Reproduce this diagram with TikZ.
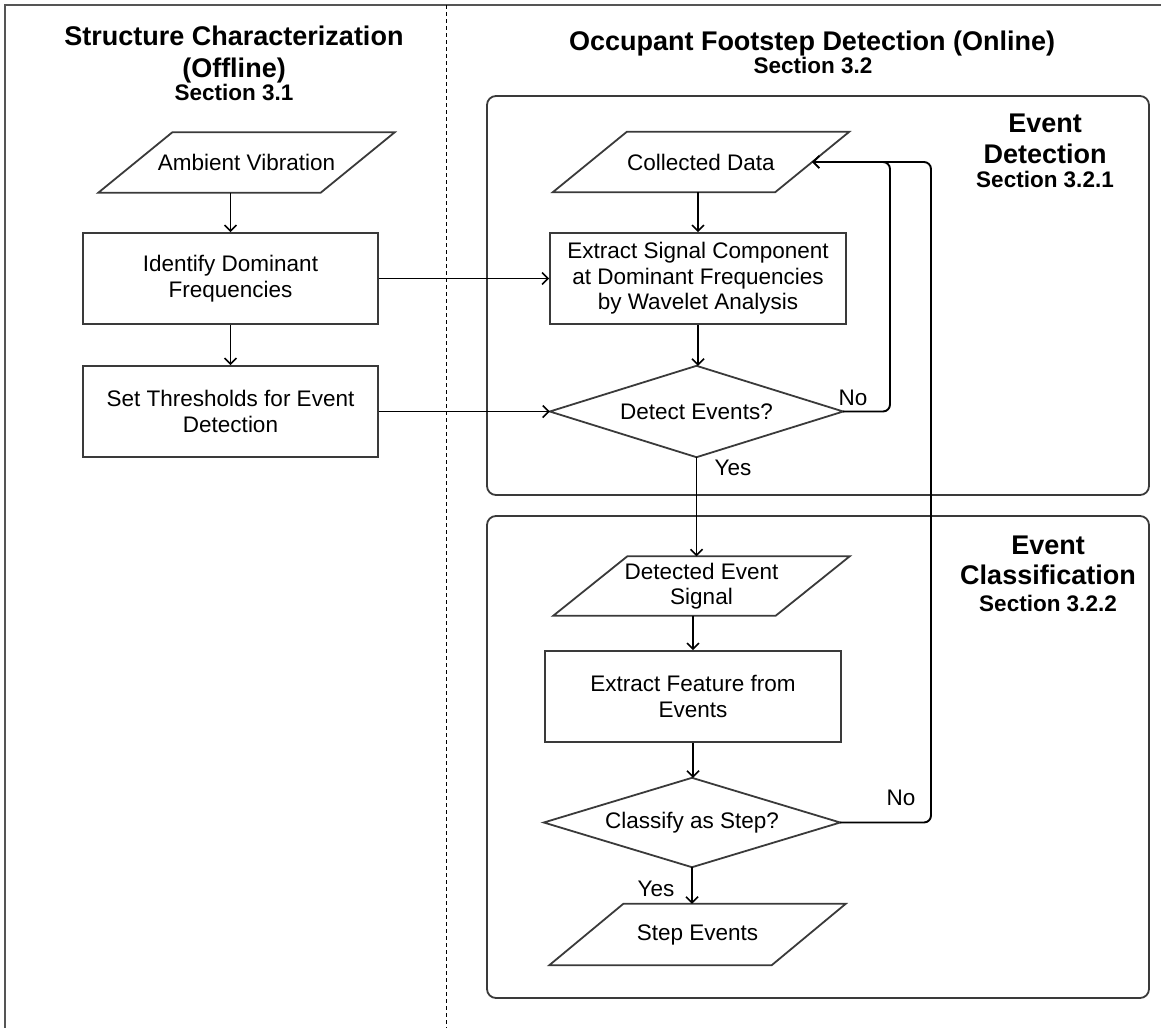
\documentclass[tikz,border=0pt]{standalone}
\usepackage{fontspec}
\setmainfont{Liberation Sans}
\usetikzlibrary{arrows.meta}
\definecolor{shapegray}{HTML}{3A3A3A}
\definecolor{framegray}{HTML}{555555}
\begin{document}
\begin{tikzpicture}[x=1pt,y=-1pt,
  every node/.style={font=\fontsize{22.5}{25.5}\selectfont, inner sep=0pt},
  box/.style={draw=shapegray, line width=1.8pt, minimum width=295pt, minimum height=91pt, align=center},
  holder/.style={minimum width=222pt, minimum height=60pt, align=center},
  dia/.style={align=center},
  shapeline/.style={draw=shapegray, line width=1.8pt, line join=miter},
  conn/.style={draw=black, line width=1.9pt, -{Straight Barb[length=6pt,width=12pt,line width=1.5pt]}},
  container/.style={draw=shapegray, line width=1.8pt, rounded corners=9pt},
  ttl/.style={font=\fontsize{27}{30}\selectfont\bfseries, anchor=base},
  sec/.style={font=\fontsize{22.5}{25}\selectfont\bfseries, anchor=base},
  lbl/.style={font=\fontsize{22.5}{25}\selectfont}
]
\useasboundingbox (0,0) rectangle (1161,1028);

% frame and separator
\draw[framegray, line width=1.8pt] (1161,5) -- (5,5) -- (5,1028);
\draw[black, line width=1pt, dash pattern=on 4pt off 3pt] (446,5) -- (446,1028);

% containers
\node[container, minimum width=662pt, minimum height=399pt] (edbox) at (818,295.5) {};
\node[container, minimum width=662pt, minimum height=482pt] (ecbox) at (818,757) {};

% titles
\node[ttl] (t1) at (234,45) {Structure Characterization};
\node[ttl] (t1b) at (234,77) {(Offline)};
\node[sec] (t1s) at (234,100) {Section 3.1};
\node[ttl] (t2) at (812,50) {Occupant Footstep Detection (Online)};
\node[sec] (t2s) at (813,73) {Section 3.2};
\node[ttl] (t3) at (1045,132) {Event};
\node[ttl] (t3b) at (1045,163) {Detection};
\node[sec] (t3s) at (1045,187) {Section 3.2.1};
\node[ttl] (t4) at (1048,554) {Event};
\node[ttl] (t4b) at (1048,584) {Classification};
\node[sec] (t4s) at (1048,611) {Section 3.2.2};

% nodes
\node[holder] (amb) at (246.5,162.5) {Ambient Vibration};
\node[box] (idf) at (230.5,278.5) {Identify Dominant\\Frequencies};
\node[box] (thr) at (230.5,411.5) {Set Thresholds for Event\\Detection};
\node[holder] (cd) at (701,162) {Collected Data};
\node[box, minimum width=296pt] (ext) at (698,278.5) {Extract Signal Component\\at Dominant Frequencies\\by Wavelet Analysis};
\node[dia, minimum width=293pt, minimum height=91pt] (det) at (696.5,411.5) {Detect Events?};
\node[holder, minimum height=59pt] (des) at (701.5,586) {Detected Event\\Signal};
\node[box, minimum width=296pt] (fea) at (693,696.5) {Extract Feature from\\Events};
\node[dia, minimum width=296pt, minimum height=89pt] (cls) at (692,822.5) {Classify as Step?};
\node[holder, minimum height=61pt] (se) at (697.5,934.5) {Step Events};

% parallelograms
\foreach \n in {amb,cd,des,se}
  \draw[shapeline] ([xshift=37pt]\n.north west) -- ([xshift=37pt]\n.north east)
     -- ([xshift=-37pt]\n.south east) -- ([xshift=-37pt]\n.south west) -- cycle;
% diamonds
\foreach \n in {det,cls}
  \draw[shapeline] (\n.north) -- (\n.east) -- (\n.south) -- (\n.west) -- cycle;

% connectors
\draw[conn] (amb.south -| idf.north) -- (idf.north);
\draw[conn] (idf.south) -- (thr.north);
\draw[conn] (idf.east) -- (ext.west);
\draw[conn] (thr.east) -- (det.west);
\draw[conn] (cd.south -| ext.north) -- (ext.north);
\draw[conn] (ext.south) -- (ext.south |- det.north);
\draw[conn] (det.south) -- (det.south |- des.north);
\draw[conn] (des.south -| fea.north) -- (fea.north);
\draw[conn] (fea.south) -- (fea.south |- cls.north);
\draw[conn] (cls.south) -- (cls.south |- se.north);

\coordinate (loopA) at (890,162);
\coordinate (loopB) at (931,162);
\draw[conn, rounded corners=7pt] (det.east) -| (loopA) -- (cd.east);
\draw[conn, rounded corners=7pt] (cls.east) -| (loopB) -- (cd.east);

% labels
\node[lbl] (noA) at (853,398) {No};
\node[lbl] (yesA) at (733,468) {Yes};
\node[lbl] (noB) at (901,798) {No};
\node[lbl] (yesB) at (656,889) {Yes};
\end{tikzpicture}
\end{document}
